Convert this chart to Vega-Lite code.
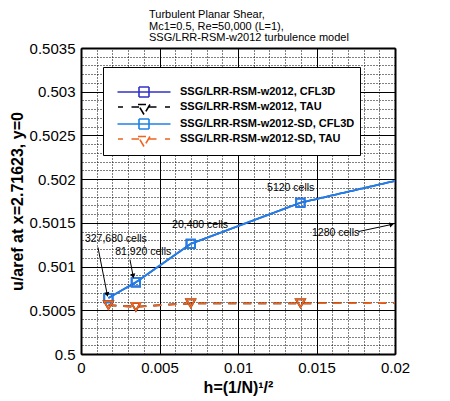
{
  "$schema": "https://vega.github.io/schema/vega-lite/v6.json",
  "width": 314,
  "height": 306,
  "autosize": "none",
  "padding": {"left": 81, "top": 48, "right": 55, "bottom": 47},
  "background": "white",
  "title": {
    "text": ["Turbulent Planar Shear,", "Mc1=0.5, Re=50,000 (L=1),", "SSG/LRR-RSM-w2012 turbulence model"],
    "anchor": "start",
    "frame": "group",
    "dx": 68,
    "offset": -2,
    "font": "Liberation Sans",
    "fontSize": 11,
    "fontWeight": "normal",
    "lineHeight": 11.5,
    "color": "black"
  },
  "config": {
    "view": {"stroke": null},
    "axis": {
      "labelFont": "Liberation Sans",
      "labelFontSize": 15,
      "labelColor": "black",
      "labelFlush": false,
      "titleFont": "Liberation Sans",
      "titleFontSize": 16,
      "titleFontWeight": "bold",
      "titleColor": "black",
      "domainColor": "black",
      "domainWidth": 2,
      "gridColor": "black",
      "gridOpacity": 1,
      "gridWidth": 1,
      "ticks": false
    }
  },
  "datasets": {
    "notes": [
      {"label": "327,680 cells", "h": 0.00025, "u": 0.50131},
      {"label": "81,920 cells", "h": 0.00218, "u": 0.50117},
      {"label": "20,480 cells", "h": 0.0058, "u": 0.50148},
      {"label": "5120 cells", "h": 0.01185, "u": 0.5019},
      {"label": "1280 cells", "h": 0.01471, "u": 0.50138}
    ],
    "arrows": [
      {"label": "327,680 cells", "h": 0.00108, "u": 0.50122, "h2": 0.00166, "u2": 0.50069},
      {"label": "81,920 cells", "h": 0.00312, "u": 0.50108, "h2": 0.00331, "u2": 0.50090},
      {"label": "1280 cells", "h": 0.01766, "u": 0.50140, "h2": 0.01975, "u2": 0.50148}
    ]
  },
  "data": {
    "values": [
      {"series": "SSG/LRR-RSM-w2012, CFL3D", "h": 0.0017469, "u": 0.50064},
      {"series": "SSG/LRR-RSM-w2012, CFL3D", "h": 0.0034939, "u": 0.50082},
      {"series": "SSG/LRR-RSM-w2012, CFL3D", "h": 0.0069877, "u": 0.50126},
      {"series": "SSG/LRR-RSM-w2012, CFL3D", "h": 0.0139754, "u": 0.50173},
      {"series": "SSG/LRR-RSM-w2012, CFL3D", "h": 0.0279508, "u": 0.50231},
      {"series": "SSG/LRR-RSM-w2012, TAU", "h": 0.0017469, "u": 0.50056},
      {"series": "SSG/LRR-RSM-w2012, TAU", "h": 0.0034939, "u": 0.50054},
      {"series": "SSG/LRR-RSM-w2012, TAU", "h": 0.0069877, "u": 0.50058},
      {"series": "SSG/LRR-RSM-w2012, TAU", "h": 0.0139754, "u": 0.50058},
      {"series": "SSG/LRR-RSM-w2012, TAU", "h": 0.0279508, "u": 0.50059},
      {"series": "SSG/LRR-RSM-w2012-SD, CFL3D", "h": 0.0017469, "u": 0.50064},
      {"series": "SSG/LRR-RSM-w2012-SD, CFL3D", "h": 0.0034939, "u": 0.50082},
      {"series": "SSG/LRR-RSM-w2012-SD, CFL3D", "h": 0.0069877, "u": 0.50126},
      {"series": "SSG/LRR-RSM-w2012-SD, CFL3D", "h": 0.0139754, "u": 0.50173},
      {"series": "SSG/LRR-RSM-w2012-SD, CFL3D", "h": 0.0279508, "u": 0.50231},
      {"series": "SSG/LRR-RSM-w2012-SD, TAU", "h": 0.0017469, "u": 0.50056},
      {"series": "SSG/LRR-RSM-w2012-SD, TAU", "h": 0.0034939, "u": 0.50054},
      {"series": "SSG/LRR-RSM-w2012-SD, TAU", "h": 0.0069877, "u": 0.50058},
      {"series": "SSG/LRR-RSM-w2012-SD, TAU", "h": 0.0139754, "u": 0.50058},
      {"series": "SSG/LRR-RSM-w2012-SD, TAU", "h": 0.0279508, "u": 0.50059}
    ]
  },
  "resolve": {"axis": {"x": "independent", "y": "independent"}},
  "layer": [
    {
      "mark": {"type": "point", "filled": false, "size": 100, "opacity": 0, "clip": true},
      "encoding": {
        "x": {
          "field": "h", "type": "quantitative",
          "scale": {"domain": [0, 0.02], "nice": false, "zero": false},
          "axis": {
            "orient": "top",
            "values": [0.001, 0.002, 0.003, 0.004, 0.006, 0.007, 0.008, 0.009, 0.011, 0.012, 0.013, 0.014, 0.016, 0.017, 0.018, 0.019],
            "grid": true, "gridDash": [1, 2], "labels": false, "title": null
          }
        },
        "y": {
          "field": "u", "type": "quantitative",
          "scale": {"domain": [0.5, 0.5035], "nice": false, "zero": false},
          "axis": {
            "orient": "right",
            "values": [0.5001, 0.5002, 0.5003, 0.5004, 0.5006, 0.5007, 0.5008, 0.5009, 0.5011, 0.5012, 0.5013, 0.5014, 0.5016, 0.5017, 0.5018, 0.5019, 0.5021, 0.5022, 0.5023, 0.5024, 0.5026, 0.5027, 0.5028, 0.5029, 0.5031, 0.5032, 0.5033, 0.5034],
            "grid": true, "gridDash": [1, 2], "labels": false, "title": null
          }
        },
        "stroke": {
          "field": "series", "type": "nominal",
          "scale": {
            "domain": ["SSG/LRR-RSM-w2012, CFL3D", "SSG/LRR-RSM-w2012, TAU", "SSG/LRR-RSM-w2012-SD, CFL3D", "SSG/LRR-RSM-w2012-SD, TAU"],
            "range": ["#3232c8", "#000000", "#1e82e6", "#f0641e"]
          },
          "legend": {
            "title": " ",
            "titleFontSize": 6,
            "titlePadding": 8,
            "orient": "none",
            "legendX": 22,
            "legendY": 19,
            "fillColor": "white",
            "strokeColor": "black",
            "padding": 5,
            "symbolOffset": 30,
            "symbolSize": 100,
            "symbolStrokeWidth": 1.6,
            "symbolOpacity": 1,
            "labelOffset": 30,
            "labelFont": "Liberation Sans",
            "labelFontSize": 11,
            "labelFontWeight": "bold",
            "labelColor": "black",
            "labelLimit": 300,
            "rowPadding": -4
          }
        },
        "shape": {
          "field": "series", "type": "nominal",
          "legend": {"title": " "},
          "scale": {
            "domain": ["SSG/LRR-RSM-w2012, CFL3D", "SSG/LRR-RSM-w2012, TAU", "SSG/LRR-RSM-w2012-SD, CFL3D", "SSG/LRR-RSM-w2012-SD, TAU"],
            "range": [
              "M-1,-1L1,-1L1,1L-1,1L-1,-1M-5.3,0L5.3,0",
              "M-1.2,-0.5L1.2,-0.5M1.2,-0.5L0,1.5M0,1.5L-1.2,-0.5M-5.2,0L-4.2,0M-2.5,0L-1,0M1,0L2.5,0M4.2,0L5.2,0",
              "M-1,-1L1,-1L1,1L-1,1L-1,-1M-5.3,0L5.3,0",
              "M-1.2,-0.5L1.2,-0.5M1.2,-0.5L0,1.5M0,1.5L-1.2,-0.5M-5.2,0L-4.2,0M-2.5,0L-1,0M1,0L2.5,0M4.2,0L5.2,0"
            ]
          }
        }
      }
    },
    {
      "mark": {"type": "line", "clip": true, "strokeWidth": 1.8},
      "encoding": {
        "x": {
          "field": "h", "type": "quantitative",
          "scale": {"domain": [0, 0.02], "nice": false, "zero": false},
          "axis": {
            "values": [0, 0.005, 0.01, 0.015, 0.02],
            "format": "~g",
            "grid": true,
            "labelPadding": 6,
            "title": "h=(1/N)¹/²",
            "titlePadding": 4
          }
        },
        "y": {
          "field": "u", "type": "quantitative",
          "scale": {"domain": [0.5, 0.5035], "nice": false, "zero": false},
          "axis": {
            "values": [0.5, 0.5005, 0.501, 0.5015, 0.502, 0.5025, 0.503, 0.5035],
            "format": "~g",
            "grid": true,
            "labelPadding": 6,
            "title": "u/aref at x=2.71623, y=0",
            "titlePadding": 4
          }
        },
        "color": {
          "field": "series", "type": "nominal", "legend": null,
          "scale": {
            "domain": ["SSG/LRR-RSM-w2012, CFL3D", "SSG/LRR-RSM-w2012, TAU", "SSG/LRR-RSM-w2012-SD, CFL3D", "SSG/LRR-RSM-w2012-SD, TAU"],
            "range": ["#3232c8", "#000000", "#1e82e6", "#f0641e"]
          }
        },
        "strokeDash": {
          "field": "series", "type": "nominal", "legend": null,
          "scale": {
            "domain": ["SSG/LRR-RSM-w2012, CFL3D", "SSG/LRR-RSM-w2012, TAU", "SSG/LRR-RSM-w2012-SD, CFL3D", "SSG/LRR-RSM-w2012-SD, TAU"],
            "range": [[1, 0], [8, 7], [1, 0], [8, 7]]
          }
        }
      }
    },
    {
      "transform": [{"filter": {"field": "series", "oneOf": ["SSG/LRR-RSM-w2012, CFL3D", "SSG/LRR-RSM-w2012-SD, CFL3D"]}}],
      "mark": {"type": "point", "shape": "square", "filled": false, "size": 70, "strokeWidth": 1.8, "opacity": 1, "clip": true},
      "encoding": {
        "x": {"field": "h", "type": "quantitative", "scale": {"domain": [0, 0.02], "nice": false, "zero": false}, "axis": null},
        "y": {"field": "u", "type": "quantitative", "scale": {"domain": [0.5, 0.5035], "nice": false, "zero": false}, "axis": null},
        "color": {"field": "series", "type": "nominal", "legend": null}
      }
    },
    {
      "transform": [{"filter": {"field": "series", "oneOf": ["SSG/LRR-RSM-w2012, TAU", "SSG/LRR-RSM-w2012-SD, TAU"]}}],
      "mark": {"type": "point", "shape": "triangle-down", "filled": false, "size": 80, "strokeWidth": 1.8, "opacity": 1, "clip": true},
      "encoding": {
        "x": {"field": "h", "type": "quantitative", "scale": {"domain": [0, 0.02], "nice": false, "zero": false}, "axis": null},
        "y": {"field": "u", "type": "quantitative", "scale": {"domain": [0.5, 0.5035], "nice": false, "zero": false}, "axis": null},
        "color": {"field": "series", "type": "nominal", "legend": null}
      }
    },
    {
      "data": {"name": "arrows"},
      "mark": {"type": "rule", "color": "black", "strokeWidth": 1},
      "encoding": {
        "x": {"field": "h", "type": "quantitative", "axis": null},
        "y": {"field": "u", "type": "quantitative", "axis": null},
        "x2": {"field": "h2"},
        "y2": {"field": "u2"}
      }
    },
    {
      "data": {"name": "arrows"},
      "transform": [{"filter": "datum.label == '327,680 cells'"}],
      "mark": {"type": "point", "shape": "triangle", "filled": true, "color": "black", "size": 28, "opacity": 1, "angle": 168},
      "encoding": {
        "x": {"field": "h2", "type": "quantitative", "axis": null},
        "y": {"field": "u2", "type": "quantitative", "axis": null}
      }
    },
    {
      "data": {"name": "arrows"},
      "transform": [{"filter": "datum.label == '81,920 cells'"}],
      "mark": {"type": "point", "shape": "triangle", "filled": true, "color": "black", "size": 28, "opacity": 1, "angle": 170},
      "encoding": {
        "x": {"field": "h2", "type": "quantitative", "axis": null},
        "y": {"field": "u2", "type": "quantitative", "axis": null}
      }
    },
    {
      "data": {"name": "arrows"},
      "transform": [{"filter": "datum.label == '1280 cells'"}],
      "mark": {"type": "point", "shape": "triangle", "filled": true, "color": "black", "size": 28, "opacity": 1, "angle": 76},
      "encoding": {
        "x": {"field": "h2", "type": "quantitative", "axis": null},
        "y": {"field": "u2", "type": "quantitative", "axis": null}
      }
    },
    {
      "data": {"name": "notes"},
      "mark": {"type": "text", "align": "left", "baseline": "middle", "font": "Liberation Sans", "fontSize": 10.5, "color": "black"},
      "encoding": {
        "x": {"field": "h", "type": "quantitative", "axis": null},
        "y": {"field": "u", "type": "quantitative", "axis": null},
        "text": {"field": "label"}
      }
    }
  ]
}
